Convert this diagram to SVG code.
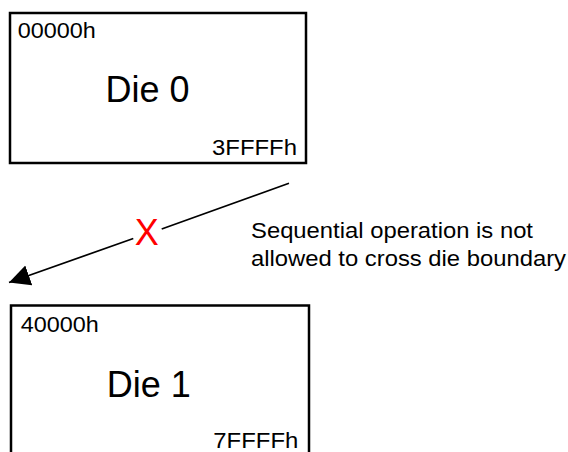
<svg xmlns="http://www.w3.org/2000/svg" width="568" height="452" viewBox="0 0 568 452">
<style>
.box{fill:#fff;stroke:#000;stroke-width:2.5}
.lbl{font-family:"Liberation Sans",Arial,sans-serif;font-size:21.5px;fill:#000}
.die{font-family:"Liberation Sans",Arial,sans-serif;font-size:36px;fill:#000}
.note{font-family:"Liberation Sans",Arial,sans-serif;font-size:21.5px;fill:#000}
.x{font-family:"Liberation Sans",Arial,sans-serif;font-size:36px;fill:#ff0000}
.conn{fill:none;stroke:#000;stroke-width:1.7}
</style>
<defs>
<marker id="arrow" markerUnits="userSpaceOnUse" markerWidth="22" markerHeight="22" viewBox="0 0 22 22" refX="21" refY="10.5" orient="auto">
<path d="M0,0 L21,10.5 L0,21 z" fill="#000"/>
</marker>
</defs>
<rect width="568" height="452" fill="#fff"/>
<g id="die0">
<rect class="box" x="10" y="13" width="296" height="150"/>
<text class="lbl" x="17.7" y="38.3" textLength="78" lengthAdjust="spacingAndGlyphs">00000h</text>
<text class="die" x="105.5" y="101.7">Die 0</text>
<text class="lbl" x="212" y="155" textLength="85" lengthAdjust="spacingAndGlyphs">3FFFFh</text>
</g>
<g id="die1">
<rect class="box" x="11" y="305.5" width="298" height="152"/>
<text class="lbl" x="20.7" y="332.3" textLength="78" lengthAdjust="spacingAndGlyphs">40000h</text>
<text class="die" x="106.7" y="396.7">Die 1</text>
<text class="lbl" x="213.3" y="448.3" textLength="85" lengthAdjust="spacingAndGlyphs">7FFFFh</text>
</g>
<g id="connectors">
<path class="conn" d="M289,183.3 L161.7,229 M133.3,238.5 L9,282.5" marker-end="url(#arrow)"/>
<text class="x" x="146.7" y="245" text-anchor="middle">X</text>
</g>
<g id="note">
<text class="note" x="251" y="237.5" textLength="282" lengthAdjust="spacingAndGlyphs">Sequential operation is not</text>
<text class="note" x="251" y="266" textLength="315" lengthAdjust="spacingAndGlyphs">allowed to cross die boundary</text>
</g>
</svg>
